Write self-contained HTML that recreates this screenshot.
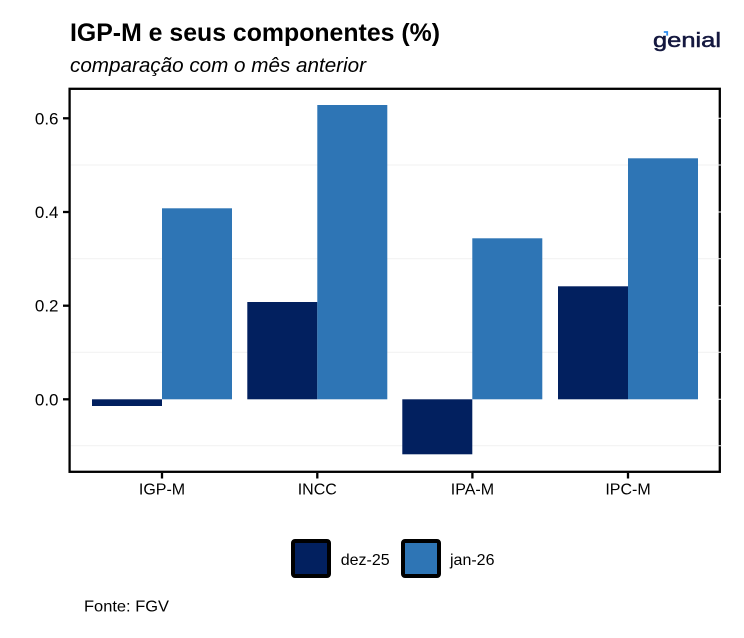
<!DOCTYPE html>
<html>
<head>
<meta charset="utf-8">
<style>
html,body{margin:0;padding:0;background:#fff;}
svg{display:block;}
text{font-family:"Liberation Sans",Arial,sans-serif;}
</style>
</head>
<body>
<svg width="744" height="638" viewBox="0 0 744 638" xmlns="http://www.w3.org/2000/svg">
<rect x="0" y="0" width="744" height="638" fill="#fff"/>

<!-- Title -->
<text x="70" y="41" font-size="25" font-weight="bold" fill="#000" textLength="370" lengthAdjust="spacingAndGlyphs">IGP-M e seus componentes (%)</text>
<text x="70" y="72" font-size="20" font-style="italic" fill="#000" textLength="296" lengthAdjust="spacingAndGlyphs">comparação com o mês anterior</text>

<!-- Logo -->
<text x="653" y="47" font-size="20" fill="#14183f" stroke="#14183f" stroke-width="0.5" font-family="DejaVu Sans, Liberation Sans, sans-serif" textLength="68" lengthAdjust="spacingAndGlyphs">genial</text>
<path d="M663.8 32 L667.2 32 L667.2 35.6" fill="none" stroke="#2d8cf0" stroke-width="1.8"/>

<!-- Panel border -->
<rect x="69.6" y="88.8" width="650.2" height="383" fill="#fff" stroke="#000" stroke-width="2.3"/>

<!-- Gridlines -->
<g stroke="#f1f1f1" stroke-width="1">
<line x1="71" y1="165" x2="722" y2="165"/>
<line x1="71" y1="258.7" x2="722" y2="258.7"/>
<line x1="71" y1="352.3" x2="722" y2="352.3"/>
<line x1="71" y1="445.7" x2="722" y2="445.7"/>
</g>
<g stroke="#ffffff" stroke-width="1">
<line x1="71" y1="118.3" x2="722" y2="118.3"/>
<line x1="71" y1="212" x2="722" y2="212"/>
<line x1="71" y1="305.7" x2="722" y2="305.7"/>
<line x1="71" y1="399.3" x2="722" y2="399.3"/>
</g>

<!-- Bars -->
<g fill="#02205f">
<rect x="92" y="399.3" width="70" height="6.7"/>
<rect x="247.3" y="302" width="70" height="97.3"/>
<rect x="402.3" y="399.3" width="70" height="55"/>
<rect x="558" y="286.3" width="70" height="113"/>
</g>
<g fill="#2e75b5">
<rect x="162" y="208.3" width="70" height="191"/>
<rect x="317.3" y="105" width="70" height="294.3"/>
<rect x="472.3" y="238.3" width="70" height="161"/>
<rect x="628" y="158.3" width="70" height="241"/>
</g>

<!-- Y ticks -->
<g stroke="#000" stroke-width="2.3">
<line x1="63" y1="118.3" x2="69" y2="118.3"/>
<line x1="63" y1="212" x2="69" y2="212"/>
<line x1="63" y1="305.7" x2="69" y2="305.7"/>
<line x1="63" y1="399.3" x2="69" y2="399.3"/>
</g>
<g font-size="17" fill="#000" text-anchor="end">
<text x="58.5" y="124.3">0.6</text>
<text x="58.5" y="218">0.4</text>
<text x="58.5" y="311.7">0.2</text>
<text x="58.5" y="405.3">0.0</text>
</g>

<!-- X ticks -->
<g stroke="#000" stroke-width="2.3">
<line x1="162" y1="473" x2="162" y2="478.5"/>
<line x1="317.3" y1="473" x2="317.3" y2="478.5"/>
<line x1="472.4" y1="473" x2="472.4" y2="478.5"/>
<line x1="628" y1="473" x2="628" y2="478.5"/>
</g>
<g font-size="16" fill="#000" text-anchor="middle">
<text x="162" y="494.3">IGP-M</text>
<text x="317.3" y="494.3">INCC</text>
<text x="472.4" y="494.3">IPA-M</text>
<text x="628" y="494.3">IPC-M</text>
</g>

<!-- Legend -->
<rect x="293" y="541" width="36" height="35" rx="2" fill="#02205f" stroke="#000" stroke-width="4"/>
<text x="340.7" y="564.8" font-size="16" fill="#000">dez-25</text>
<rect x="403" y="541" width="36" height="35" rx="2" fill="#2e75b5" stroke="#000" stroke-width="4"/>
<text x="450" y="564.8" font-size="16" fill="#000">jan-26</text>

<!-- Source -->
<text x="84" y="611.7" font-size="16" fill="#000" textLength="85" lengthAdjust="spacingAndGlyphs">Fonte: FGV</text>
</svg>
</body>
</html>
